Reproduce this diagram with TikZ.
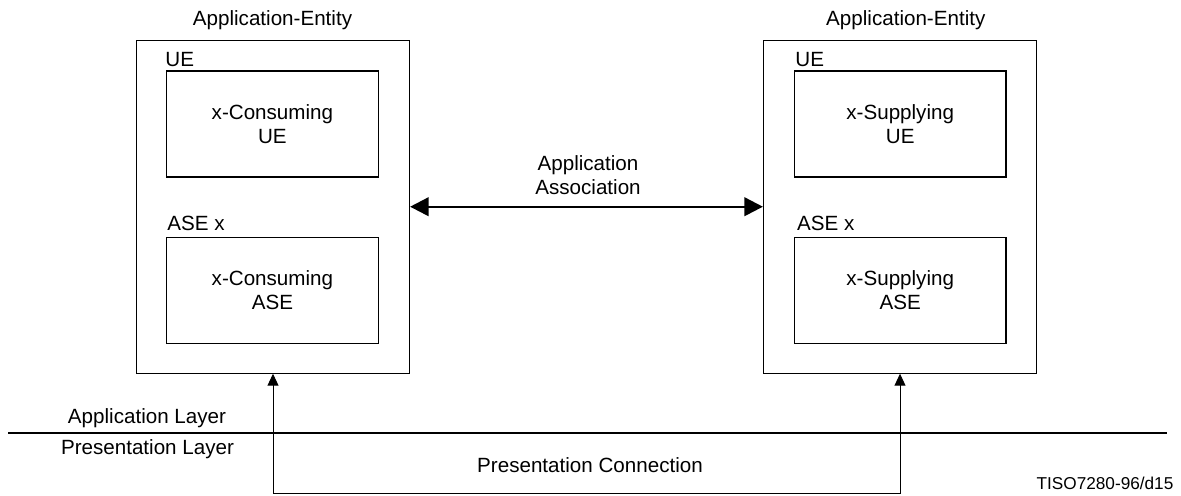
\documentclass[tikz,border=0pt]{standalone}
\usepackage{fontspec}
\setmainfont{Liberation Sans}
\usetikzlibrary{arrows.meta}
\begin{document}
\begin{tikzpicture}[x=0.5pt,y=-0.5pt,
  every node/.style={font=\fontsize{10.3pt}{11.8pt}\selectfont, inner sep=0pt, align=center},
  outerbox/.style={draw, line width=0.6pt, minimum width=136.5pt, minimum height=166.2pt},
  innerbox/.style={draw, line width=0.6pt, minimum width=105.7pt, minimum height=53pt},
  lbl/.style={anchor=west},
  assoc/.style={line width=1.2pt, {Triangle[length=9.3pt,width=9.3pt]}-{Triangle[length=9.3pt,width=9.3pt]}},
  conn/.style={line width=0.5pt, -{Triangle[length=5.9pt,width=5.4pt]}},
  sep/.style={line width=1.1pt},
  small/.style={font=\fontsize{8.6pt}{10pt}\selectfont}]
\useasboundingbox (0,0) rectangle (1181,495);

% left application entity
\node (tAEL) at (272.5,20) {Application-Entity};
\node[outerbox] (AEL) at (273,206.9) {};
\node[lbl] (ueL) at (165,60) {UE};
\node[innerbox] (UEL) at (272.4,123.9) {x-Consuming\\UE};
\node[lbl] (aseL) at (167,223.3) {ASE x};
\node[innerbox] (ASEL) at (272.4,290.3) {x-Consuming\\ASE};

% right application entity
\node (tAER) at (905.8,20) {Application-Entity};
\node[outerbox] (AER) at (900,206.9) {};
\node[lbl] (ueR) at (795,60) {UE};
\node[innerbox] (UER) at (900.2,123.9) {x-Supplying\\UE};
\node[lbl] (aseR) at (796.7,223.3) {ASE x};
\node[innerbox] (ASER) at (900.2,290.3) {x-Supplying\\ASE};

% association
\node (assocT) at (588,175) {Application\\Association};
\coordinate (aL) at (AEL.east |- 0,206.7);
\coordinate (aR) at (AER.west |- 0,206.7);
\draw[assoc] (aL) -- (aR);

% layers
\coordinate (sepL) at (8,433.3);
\coordinate (sepR) at (1167,433.3);
\draw[sep] (sepL) -- (sepR);
\node (appLayer) at (147,418) {Application Layer};
\node (presLayer) at (147.5,449) {Presentation Layer};

% presentation connection
\coordinate (cL) at (AEL.south |- 0,493);
\coordinate (cR) at (AER.south |- 0,493);
\draw[conn] (cL) -- (AEL.south);
\draw[conn] (cL) -- (cR) -- (AER.south);
\node (presConn) at (590,465) {Presentation Connection};

\node[small] (ref) at (1105,483) {TISO7280-96/d15};
\end{tikzpicture}
\end{document}
